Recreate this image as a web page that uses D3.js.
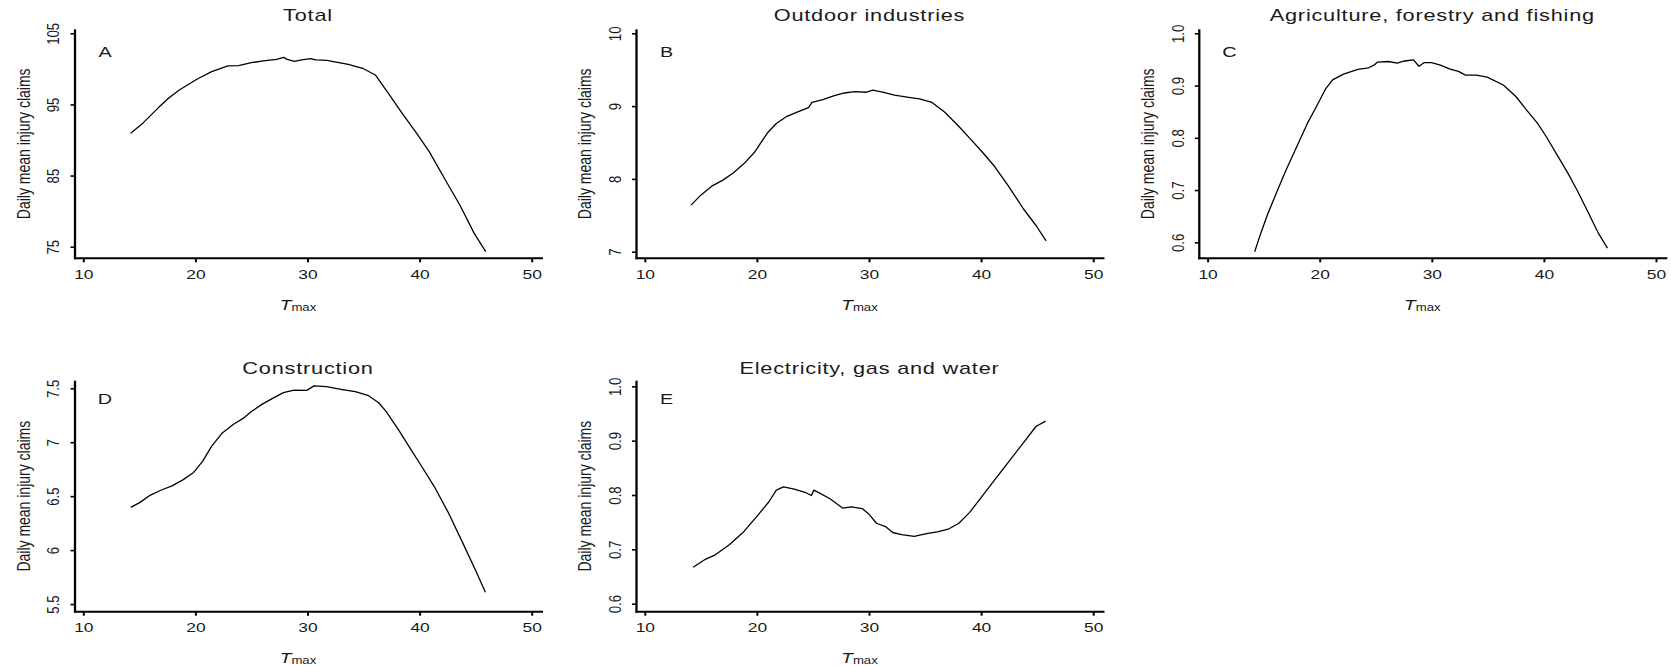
<!DOCTYPE html>
<meta charset="utf-8">
<style>
body { margin: 0; background: #fff; }
svg text { font-family: "Liberation Sans", Arial, sans-serif; fill: #1a1a1a; }
.curve { fill: none; stroke: #000; stroke-width: 1.3px; stroke-linejoin: round; }
.frame { stroke: #000; fill: none; }
</style>
<script src="https://d3js.org/d3.v7.min.js"></script>
<div id="chart"></div>
<script>

// ---------------------------//
//       DATA (read off)      //
// ---------------------------//

var xTicks = [10, 20, 30, 40, 50];

// A - Total
var tmaxTotal   = [14.23, 15.36, 16.64, 17.6, 18.56, 20.17, 21.45, 22.9, 23.86, 24.98, 26.26, 27.23, 27.87, 28.19, 28.83, 29.47, 30.27, 30.75, 31.72, 32.68, 33.64, 34.92, 36.05, 37.17, 38.45, 39.74, 40.86, 42.3, 43.59, 44.87, 45.9];
var claimsTotal = [90.94, 92.44, 94.45, 95.86, 97.03, 98.58, 99.61, 100.41, 100.45, 100.87, 101.16, 101.34, 101.62, 101.34, 101.06, 101.25, 101.44, 101.25, 101.2, 100.92, 100.64, 100.08, 99.14, 96.66, 93.75, 90.94, 88.36, 84.37, 80.86, 76.87, 74.3];
var yTicksTotal = [75, 85, 95, 105];

// B - Outdoor industries
var tmaxOutdoor   = [14.12, 15.02, 15.97, 16.93, 17.89, 18.85, 19.81, 20.93, 21.73, 22.68, 23.64, 24.6, 24.92, 25.88, 26.84, 27.8, 28.75, 29.71, 30.35, 31.31, 32.27, 33.55, 34.5, 35.62, 36.74, 38.02, 38.98, 40.1, 41.21, 42.49, 43.77, 44.9, 45.8];
var claimsOutdoor = [7.64, 7.78, 7.90, 7.98, 8.08, 8.21, 8.37, 8.63, 8.76, 8.86, 8.92, 8.98, 9.05, 9.09, 9.14, 9.18, 9.20, 9.19, 9.22, 9.19, 9.15, 9.12, 9.10, 9.05, 8.92, 8.72, 8.56, 8.37, 8.17, 7.89, 7.59, 7.36, 7.15];
var yTicksOutdoor = [7, 8, 9, 10];

// C - Agriculture, forestry and fishing
var tmaxAgri   = [14.2, 14.74, 15.38, 16.19, 16.99, 17.95, 18.91, 19.71, 20.51, 21.15, 22.12, 23.4, 24.36, 24.84, 25.16, 26.12, 26.92, 27.56, 28.37, 28.85, 29.33, 29.97, 30.77, 31.57, 32.37, 33.01, 33.97, 34.94, 36.38, 37.5, 38.46, 39.42, 40.22, 41.19, 42.15, 42.95, 43.91, 44.87, 45.67];
var claimsAgri = [0.582, 0.617, 0.655, 0.697, 0.738, 0.783, 0.828, 0.860, 0.893, 0.911, 0.922, 0.931, 0.934, 0.939, 0.945, 0.946, 0.943, 0.947, 0.949, 0.937, 0.944, 0.944, 0.939, 0.932, 0.927, 0.920, 0.920, 0.916, 0.901, 0.879, 0.853, 0.828, 0.802, 0.767, 0.732, 0.700, 0.659, 0.617, 0.589];
var yTicksAgri = [0.6, 0.7, 0.8, 0.9, 1.0];

// D - Construction
var tmaxConstr   = [14.23, 15.03, 15.99, 16.96, 17.92, 18.88, 19.84, 20.64, 21.44, 22.4, 23.37, 24.33, 24.97, 25.93, 26.89, 27.85, 28.81, 29.94, 30.58, 31.7, 32.98, 34.26, 35.38, 36.35, 36.99, 38.11, 39.23, 40.19, 41.31, 42.6, 43.88, 45.0, 45.87];
var claimsConstr = [6.396, 6.44, 6.51, 6.557, 6.595, 6.651, 6.72, 6.822, 6.962, 7.086, 7.164, 7.226, 7.282, 7.351, 7.407, 7.46, 7.484, 7.481, 7.522, 7.516, 7.491, 7.469, 7.435, 7.366, 7.288, 7.117, 6.931, 6.775, 6.589, 6.34, 6.06, 5.811, 5.609];
var yTicksConstr = [5.5, 6, 6.5, 7, 7.5];

// E - Electricity, gas and water
var tmaxElec   = [14.31, 15.34, 16.29, 17.57, 18.85, 20.13, 21.09, 21.73, 22.37, 23.33, 24.3, 24.86, 25.08, 25.56, 26.52, 27.64, 28.43, 29.39, 30.03, 30.67, 31.47, 32.11, 32.91, 34.03, 35.14, 36.1, 37.06, 38.02, 38.98, 40.1, 41.21, 42.49, 43.77, 44.89, 45.75];
var claimsElec = [0.667, 0.681, 0.690, 0.709, 0.733, 0.764, 0.788, 0.809, 0.815, 0.811, 0.805, 0.799, 0.809, 0.804, 0.793, 0.776, 0.778, 0.775, 0.764, 0.748, 0.742, 0.731, 0.727, 0.724, 0.729, 0.732, 0.737, 0.748, 0.768, 0.798, 0.828, 0.862, 0.896, 0.926, 0.936];
var yTicksElec = [0.6, 0.7, 0.8, 0.9, 1.0];

// ---------------------------//
//       LAYOUT               //
// ---------------------------//

var W = 1671, H = 666;
var stretch = 1.32;            // the original text is drawn wide
var colLeft = [75, 636.5, 1199.3];
var rowTop = [29.3, 380.7], rowBottom = [258.3, 611.7];
var letterY = [57, 403.7];

var panels = [
  {tag: "A", title: "Total", col: 0, row: 0, x: tmaxTotal, y: claimsTotal, ticks: yTicksTotal, fmt: d3.format("d"), yPix: [246.7, 33.3]},
  {tag: "B", title: "Outdoor industries", col: 1, row: 0, x: tmaxOutdoor, y: claimsOutdoor, ticks: yTicksOutdoor, fmt: d3.format("d"), yPix: [251.7, 33.3]},
  {tag: "C", title: "Agriculture, forestry and fishing", col: 2, row: 0, x: tmaxAgri, y: claimsAgri, ticks: yTicksAgri, fmt: d3.format(".1f"), yPix: [242.3, 33.3]},
  {tag: "D", title: "Construction", col: 0, row: 1, x: tmaxConstr, y: claimsConstr, ticks: yTicksConstr, fmt: function(d) { return String(d); }, yPix: [604, 388.3]},
  {tag: "E", title: "Electricity, gas and water", col: 1, row: 1, x: tmaxElec, y: claimsElec, ticks: yTicksElec, fmt: d3.format(".1f"), yPix: [603.7, 386.3]}
];

var svg = d3.select("#chart")
  .append("svg")
    .attr("width", W)
    .attr("height", H);

panels.forEach(function(p) {
  var L = colLeft[p.col],
      top = rowTop[p.row],
      bottom = rowBottom[p.row],
      right = L + 468;

  var x = d3.scaleLinear()
    .domain([10, 50])
    .range([L + 8.3, L + 456.7]);

  var y = d3.scaleLinear()
    .domain([p.ticks[0], p.ticks[p.ticks.length - 1]])
    .range(p.yPix);

  var g = svg.append("g");

  // L-shaped box
  g.append("line").attr("class", "frame")
    .attr("x1", L).attr("x2", L).attr("y1", top).attr("y2", bottom + 1)
    .style("stroke-width", 2.3);
  g.append("line").attr("class", "frame")
    .attr("x1", L - 1).attr("x2", right).attr("y1", bottom).attr("y2", bottom)
    .style("stroke-width", 2);

  // x axis
  var gx = g.append("g")
    .attr("transform", "translate(0," + bottom + ")")
    .call(d3.axisBottom(x).tickValues(xTicks).tickSize(4).tickSizeOuter(0));
  gx.select(".domain").remove();
  gx.selectAll(".tick line").style("stroke-width", 2);
  gx.selectAll(".tick text")
    .attr("y", null).attr("dy", null)
    .attr("transform", "translate(0,20.5) scale(" + stretch + ",1)")
    .style("font-size", "13.2px");

  // y axis, labels parallel to the axis
  var gy = g.append("g")
    .attr("transform", "translate(" + L + ",0)")
    .call(d3.axisLeft(y).tickValues(p.ticks).tickFormat(p.fmt).tickSize(4.5).tickSizeOuter(0));
  gy.select(".domain").remove();
  gy.selectAll(".tick line").style("stroke-width", 1.6);
  gy.selectAll(".tick text")
    .attr("x", null).attr("dy", "0.35em")
    .attr("text-anchor", "middle")
    .attr("transform", "translate(-21.7,0) scale(" + stretch + ",1) rotate(-90)")
    .style("font-size", "13.2px");

  // y axis label
  g.append("text")
    .attr("text-anchor", "middle")
    .attr("dy", "0.35em")
    .attr("transform", "translate(" + (L - 51.7) + "," + ((top + bottom) / 2) + ") scale(" + stretch + ",1) rotate(-90)")
    .style("font-size", "14px")
    .text("Daily mean injury claims");

  // x axis label T_max
  var xl = g.append("text")
    .attr("text-anchor", "middle")
    .attr("transform", "translate(" + (L + 223) + "," + (bottom + 51.5) + ") scale(" + stretch + ",1)");
  xl.append("tspan").style("font-style", "italic").style("font-size", "14.5px").text("T");
  xl.append("tspan").attr("dy", 1).style("font-size", "10px").text("max");

  // title
  g.append("text")
    .attr("text-anchor", "middle")
    .attr("transform", "translate(" + (L + 233) + "," + (p.row === 0 ? 21 : 374) + ") scale(1.28,1)")
    .style("font-size", "17px")
    .style("letter-spacing", "0.6px")
    .text(p.title);

  // panel letter
  g.append("text")
    .attr("text-anchor", "middle")
    .attr("transform", "translate(" + (L + 30) + "," + letterY[p.row] + ") scale(" + stretch + ",1)")
    .style("font-size", "15px")
    .text(p.tag);

  // curve
  var pts = p.x.map(function(d, i) { return [d, p.y[i]]; });
  g.append("path")
    .datum(pts)
    .attr("class", "curve")
    .attr("d", d3.line()
      .x(function(d) { return x(d[0]); })
      .y(function(d) { return y(d[1]); }));
});

</script>
